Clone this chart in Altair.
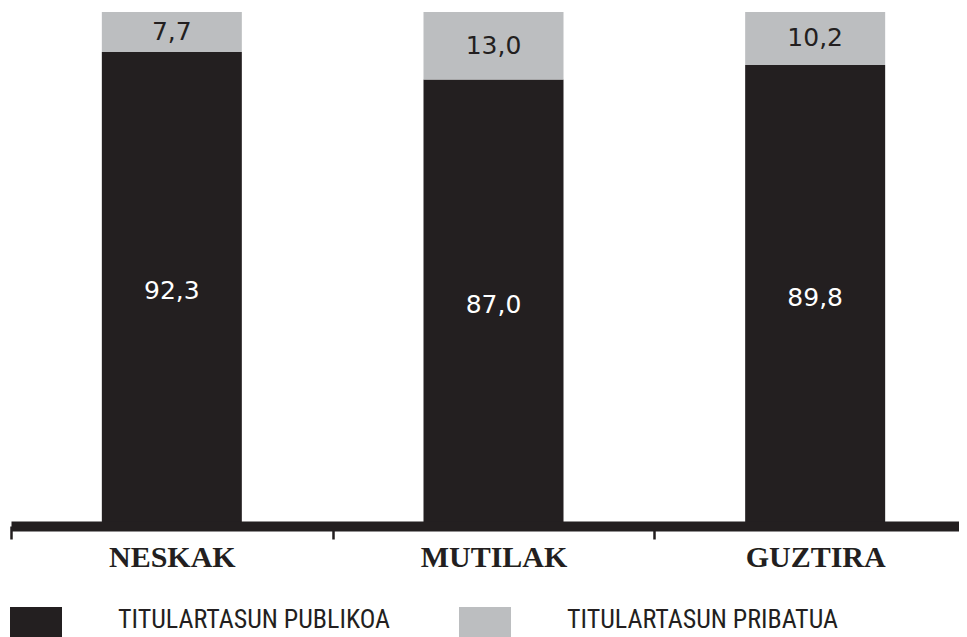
import altair as alt
import pandas as pd

categories = ["NESKAK", "MUTILAK", "GUZTIRA"]
publikoa = [92.3, 87.0, 89.8]
pribatua = [7.7, 13.0, 10.2]
series = ["TITULARTASUN PUBLIKOA", "TITULARTASUN PRIBATUA"]
colors = ["#231f20", "#bcbec0"]

rows = []
for c, a, b in zip(categories, publikoa, pribatua):
    rows.append({"cat": c, "type": series[0], "value": a, "ord": 0})
    rows.append({"cat": c, "type": series[1], "value": b, "ord": 1})
df = pd.DataFrame(rows)

xenc = alt.X(
    "cat:N",
    sort=categories,
    title=None,
    scale=alt.Scale(range=[0, 965], paddingInner=0, paddingOuter=0),
    axis=alt.Axis(
        domainWidth=10, domainColor="#231f20", domainCap="butt",
        ticks=True, tickBand="extent", tickSize=13, tickWidth=2.5, tickColor="#231f20",
        offset=-5, labelAngle=0,
        labelFont="Liberation Serif", labelFontWeight="bold", labelFontSize=30,
        labelColor="#231f20", labelBaseline="alphabetic", labelPadding=27,
        zindex=1,
    ),
)

base = alt.Chart(df).transform_stack(
    stack="value", groupby=["cat"], as_=["y0", "y1"], sort=[alt.SortField("ord")]
).transform_calculate(
    mid="(datum.y0 + datum.y1) / 2",
    lbl="replace(format(datum.value, '.1f'), '.', ',')",
)

bars = base.mark_bar(size=140).encode(
    x=xenc,
    y=alt.Y("y0:Q", scale=alt.Scale(domain=[0, 100], nice=False), axis=None),
    y2="y1:Q",
    color=alt.Color(
        "type:N",
        scale=alt.Scale(domain=series, range=colors),
        legend=alt.Legend(
            title=None, orient="none", direction="horizontal",
            legendX=-1, legendY=582, padding=0,
            symbolType="M-1,-0.5L1,-0.5L1,1.5L-1,1.5Z", symbolSize=2704,
            symbolStrokeWidth=0, symbolOpacity=1,
            labelFont="Liberation Sans Narrow, Roboto Condensed, Liberation Sans",
            labelFontSize=26, labelColor="#231f20", labelOffset=56,
            columnPadding=68, labelLimit=500,
        ),
    ),
)

text = base.mark_text(font="DejaVu Sans", fontSize=25, baseline="middle").encode(
    x=xenc,
    y=alt.Y("mid:Q"),
    text="lbl:N",
    color=alt.condition(alt.datum.ord == 0, alt.value("white"), alt.value("#231f20")),
)

chart = alt.layer(bars, text).properties(
    width=948, height=519,
    padding={"left": 3, "top": 4, "right": 0, "bottom": 106},
    autosize=alt.AutoSizeParams(type="none"),
).configure_view(strokeWidth=0)

chart.save("out.html", embed_options={"renderer": "svg", "actions": False})
